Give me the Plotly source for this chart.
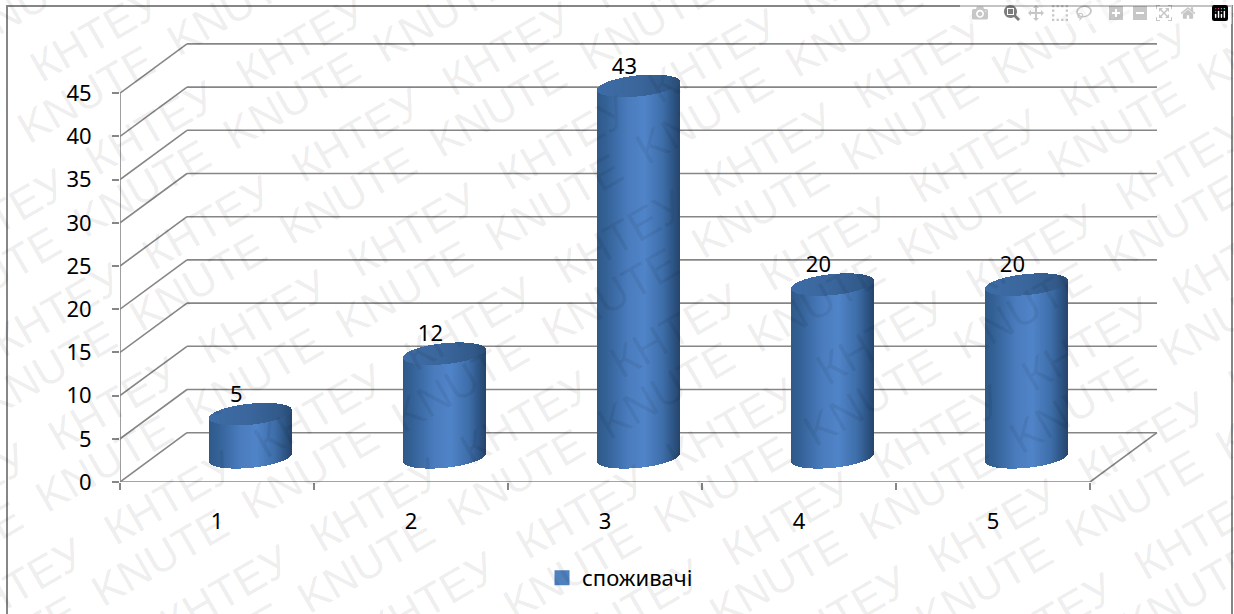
import numpy as np
import plotly.graph_objects as go

# ---- data ----
categories = [1, 2, 3, 4, 5]
values = [5, 12, 43, 20, 20]
series_name = "споживачі"
y_ticks = [0, 5, 10, 15, 20, 25, 30, 35, 40, 45]
watermarks = ["KNUTE", "КНТЕУ"]

# ---- canvas geometry ----
W, H = 1234, 614
L, R, T, B = 120, 76, 42, 132
PX_X = 194.0              # pixels per category
PX_Y = 8.64               # pixels per value unit
plot_w, plot_h = W - L - R, H - T - B
x_range = [0.5, 0.5 + plot_w / PX_X]
y_range = [0, plot_h / PX_Y]
DX = 67 / PX_X            # depth offset of the chart floor
DY = 49.3 / PX_Y
GREY = "#868686"
FONT = "Noto Sans"

def paper_x(px):
    return (px - L) / plot_w

def paper_y(py):
    return (H - B - py) / plot_h

# ---- wall / floor lines (below the cylinders) ----
shapes = []
def seg(x0, y0, x1, y1):
    shapes.append(dict(type="line", xref="x", yref="y", x0=x0, y0=y0, x1=x1, y1=y1,
                       layer="below", line=dict(color=GREY, width=1.6)))

x_left, x_right = categories[0] - 0.5, categories[-1] + 0.5
for v in y_ticks:
    seg(x_left, v, x_left + DX, v + DY)
    seg(x_left + DX, v + DY, x_right + DX, v + DY)
seg(x_right, 0, x_right + DX, DY)
seg(x_left, 0, x_right, 0)
seg(x_left, 0, x_left, y_ticks[-1])

# chart frame
shapes.append(dict(type="rect", xref="paper", yref="paper", x0=paper_x(7), x1=paper_x(1232),
                   y0=paper_y(625), y1=paper_y(6), layer="below",
                   line=dict(color=GREY, width=2), fillcolor="rgba(0,0,0,0)"))

# ---- cylinders ----
def mix(stops, t):
    pos = [s[0] for s in stops]
    rgb = [np.interp(t, pos, [s[1][i] for s in stops]) for i in range(3)]
    return "rgb(%d,%d,%d)" % tuple(int(round(c)) for c in rgb)

side_stops = [(0, (47, 88, 136)), (0.12, (52, 98, 152)), (0.38, (74, 124, 190)), (0.58, (80, 132, 200)),
              (0.8, (62, 110, 170)), (0.93, (45, 85, 132)), (1, (38, 70, 110))]
cap_stops = [(0, (62, 108, 166)), (0.5, (58, 102, 156)), (0.85, (50, 90, 138)), (1, (42, 76, 118))]

HALF_W = 41 / PX_X
RY = 10.5 / PX_Y
SKEW = 4.0 / PX_Y
n = 82
u = (np.arange(n) + 0.5) / n * 2 - 1
t = (u + 1) / 2
root = np.sqrt(1 - u ** 2)
strip = 2 * HALF_W / n * 1.15

fig = go.Figure()
for cat, val in zip(categories, values):
    cx = cat + DX / 2
    xs = cx + u * HALF_W
    bottom = DY / 2 + SKEW * u - RY * root
    top_low = val + DY / 2 + SKEW * u - RY * root
    top_high = val + DY / 2 + SKEW * u + RY * root
    fig.add_bar(x=xs, y=top_low - bottom, base=bottom, width=strip, showlegend=False,
                marker=dict(color=[mix(side_stops, a) for a in t], line=dict(width=0)),
                hoverinfo="skip")
    fig.add_bar(x=xs, y=top_high - top_low, base=top_low, width=strip, showlegend=False,
                marker=dict(color=[mix(cap_stops, a) for a in t], line=dict(width=0)),
                hoverinfo="skip")

# legend entry
fig.add_bar(x=[None], y=[None], name=series_name,
            marker=dict(color="#4F81BD", line=dict(color="#4F81BD", width=3)))

# value labels
fig.add_scatter(x=[c + 0.1 for c in categories], y=[v + 4.9 for v in values], mode="text",
                text=[str(v) for v in values], textposition="middle center",
                textfont=dict(family=FONT, size=22, color="black"),
                showlegend=False, hoverinfo="skip")

# ---- watermark lattice ----
annotations = []
origins = [(159, 557), (169, 497)]
for word, (ox, oy) in zip(watermarks, origins):
    for i in range(-12, 13):
        for j in range(-12, 13):
            px = ox + i * 150 + j * 206
            py = oy - i * 87 + j * 7
            if -60 < px < W + 60 and -40 < py < H + 40:
                annotations.append(dict(text=word, xref="paper", yref="paper",
                                        x=paper_x(px), y=paper_y(py), showarrow=False,
                                        xanchor="center", yanchor="middle", textangle=-30,
                                        font=dict(family="Liberation Sans", size=44,
                                                  color="rgba(0,0,0,0.075)")))

fig.update_layout(
    width=W, height=H, margin=dict(l=L, r=R, t=T, b=B, autoexpand=False),
    paper_bgcolor="white", plot_bgcolor="rgba(0,0,0,0)", barmode="overlay", bargap=0,
    shapes=shapes, annotations=annotations, showlegend=True,
    legend=dict(x=paper_x(542), y=paper_y(578), xanchor="left", yanchor="middle",
                font=dict(family=FONT, size=22, color="black"), bgcolor="rgba(0,0,0,0)",
                itemclick=False, itemdoubleclick=False),
    xaxis=dict(range=x_range, tickmode="array", tickvals=categories,
               ticktext=[str(c) for c in categories], ticks="", ticklabelstandoff=24,
               showgrid=False, zeroline=False, showline=False,
               tickfont=dict(family=FONT, size=22, color="black"),
               minor=dict(tick0=0.5, dtick=1, ticks="outside", ticklen=7, tickwidth=2, tickcolor=GREY, showgrid=False)),
    yaxis=dict(range=y_range, tickmode="array", tickvals=y_ticks, ticks="outside", ticklen=7,
               tickwidth=2, tickcolor=GREY, showgrid=False, zeroline=False, showline=False,
               ticklabelstandoff=16, tickfont=dict(family=FONT, size=22, color="black")),
)

fig.write_html("out.html", post_script="document.body.style.margin='0';document.body.style.overflow='hidden';")
